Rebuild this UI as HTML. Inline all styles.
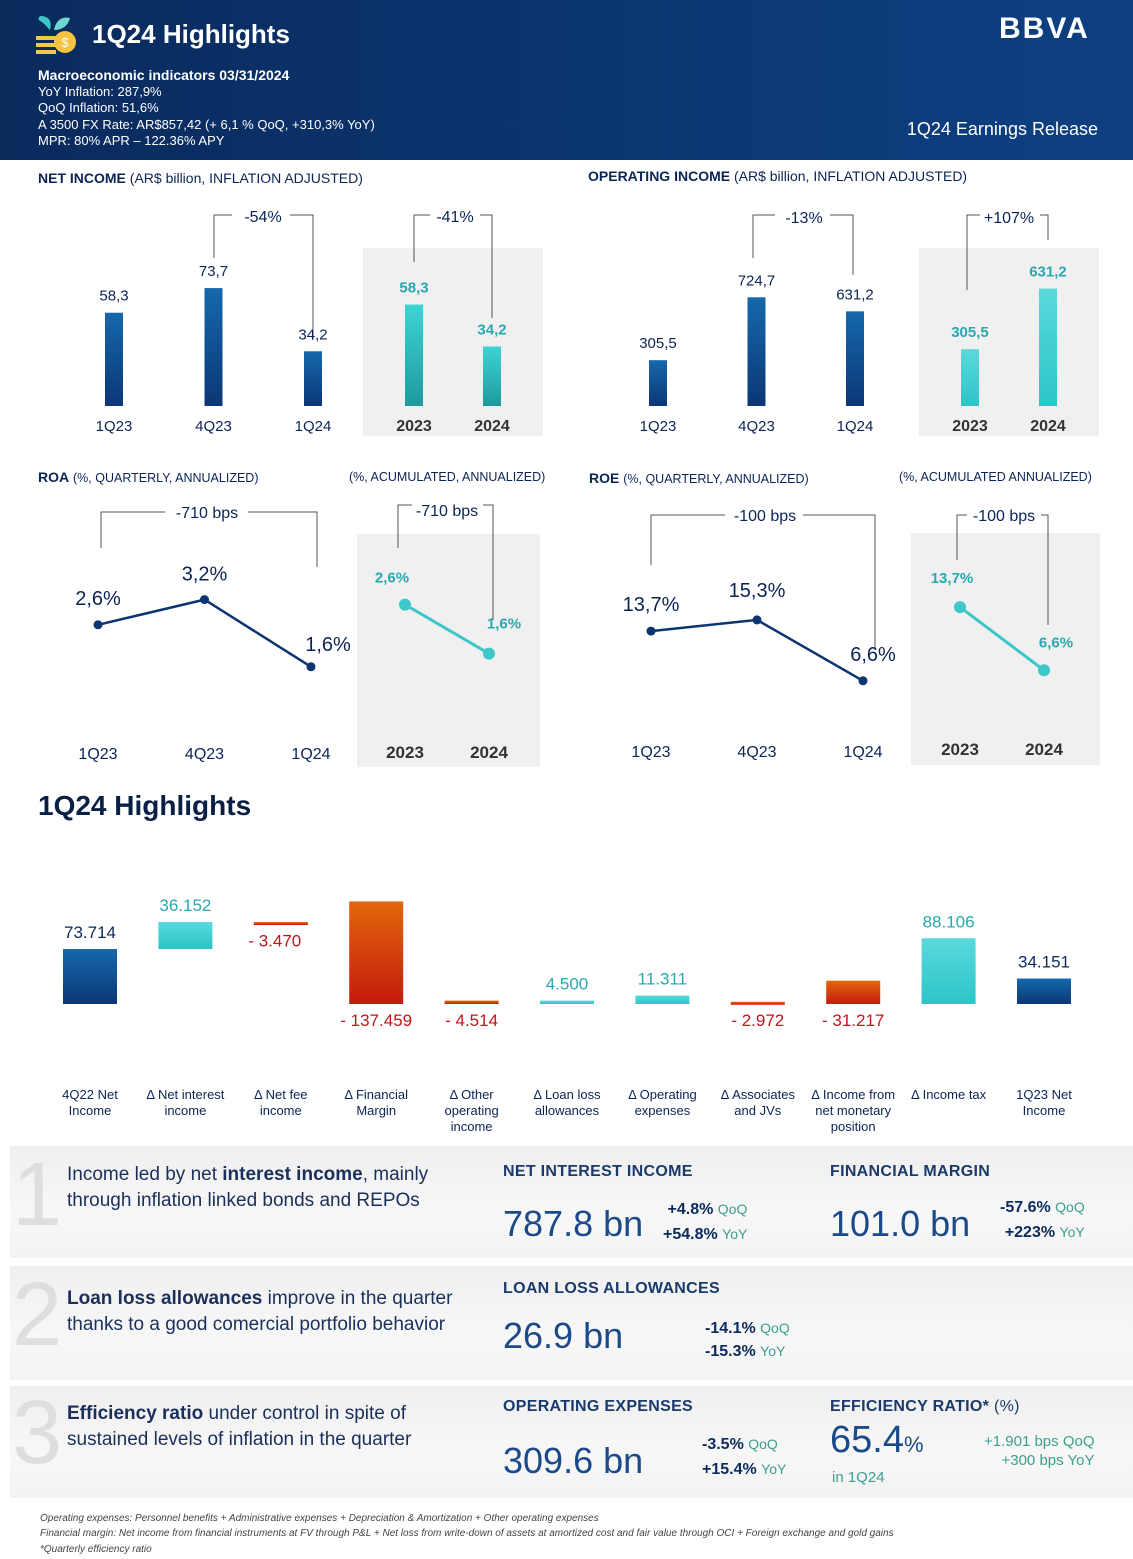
<!DOCTYPE html>
<html><head><meta charset="utf-8">
<style>
*{margin:0;padding:0;box-sizing:border-box}
body{width:1133px;height:1559px;position:relative;background:#fff;font-family:"Liberation Sans",sans-serif;overflow:hidden;color:#0b2456}
.a{position:absolute;white-space:nowrap}
#hdr{position:absolute;left:0;top:0;width:1133px;height:160px;background:linear-gradient(90deg,#0a2a5c,#0c3a78 70%,#0d3f80)}
.panel{position:absolute;left:10px;width:1123px;background:linear-gradient(180deg,#efefef,#f7f7f7 60%,#f3f3f3)}
.big{font-size:90px;color:#dedede;font-weight:normal;line-height:1}
.ptxt{font-size:19px;color:#1a2f5a;line-height:26px;white-space:normal}
.hd{font-size:16px;color:#1a3a6b;font-weight:bold;letter-spacing:.3px}
.num{font-size:36px;color:#1b4a8a;font-weight:normal}
.pct{font-size:16px;font-weight:bold;color:#0b2a5c}
.pct span{font-weight:normal;color:#3e9e8e;font-size:14px}
.foot{font-size:10px;font-style:italic;color:#444}
</style></head><body>
<div id="hdr"></div>
<svg class="a" style="left:34px;top:14px" width="48" height="42">
<path d="M14 14 C6 4 2 8 6 2 C16 2 18 8 16 16Z" fill="#3fc7c7"/><path d="M20 16 C22 6 28 2 36 4 C34 12 28 16 20 16Z" fill="#6fd6d0"/>
<rect x="2" y="22" width="20" height="4" fill="#f2c84b"/><rect x="2" y="29" width="20" height="4" fill="#f2c84b"/><rect x="2" y="36" width="20" height="4" fill="#f2c84b"/>
<circle cx="31" cy="28" r="11" fill="#f5c242"/><text x="31" y="33" font-size="13" text-anchor="middle" fill="#fff" font-family="Liberation Sans">$</text></svg>
<div class="a" style="left:92px;top:19px;font-size:26px;color:#fff;font-weight:bold">1Q24 Highlights</div>
<div class="a" style="left:38px;top:67px;font-size:14px;color:#fff;font-weight:bold">Macroeconomic indicators 03/31/2024</div>
<div class="a" style="left:38px;top:84px;font-size:13px;color:#fff;line-height:16.3px">YoY Inflation: 287,9%<br>QoQ Inflation: 51,6%<br>A 3500 FX Rate: AR$857,42 (+ 6,1 % QoQ, +310,3% YoY)<br>MPR: 80% APR – 122.36% APY</div>
<div class="a" style="left:999px;top:12px;font-size:30px;color:#fff;font-weight:bold;letter-spacing:2px">BBVA</div>
<div class="a" style="left:900px;top:119px;font-size:18px;color:#fff;width:198px;text-align:right">1Q24 Earnings Release</div>

<div class="a" style="left:38px;top:170px;font-size:14px"><b>NET INCOME</b> (AR$ billion, INFLATION ADJUSTED)</div>
<div class="a" style="left:588px;top:168px;font-size:14px"><b>OPERATING INCOME</b> (AR$ billion, INFLATION ADJUSTED)</div>
<div class="a" style="left:38px;top:469px;font-size:14px"><b>ROA</b> <span style="font-size:12.5px">(%, QUARTERLY, ANNUALIZED)</span></div>
<div class="a" style="left:349px;top:470px;font-size:12.5px">(%, ACUMULATED, ANNUALIZED)</div>
<div class="a" style="left:589px;top:470px;font-size:14px"><b>ROE</b> <span style="font-size:12.5px">(%, QUARTERLY, ANNUALIZED)</span></div>
<div class="a" style="left:899px;top:470px;font-size:12.5px">(%, ACUMULATED ANNUALIZED)</div>
<div class="a" style="left:38px;top:790px;font-size:28px;font-weight:bold;color:#0a1f44">1Q24 Highlights</div>

<svg id="charts" class="a" style="left:0;top:0" width="1133" height="1140">
<defs>
<linearGradient id="gb" x1="0" y1="0" x2="0" y2="1"><stop offset="0" stop-color="#1668ad"/><stop offset="1" stop-color="#0b3775"/></linearGradient>
<linearGradient id="gt" x1="0" y1="0" x2="0" y2="1"><stop offset="0" stop-color="#3fd3d3"/><stop offset="1" stop-color="#1e9a9e"/></linearGradient>
<linearGradient id="gt2" x1="0" y1="0" x2="0" y2="1"><stop offset="0" stop-color="#5ad9dc"/><stop offset="1" stop-color="#2cc5c8"/></linearGradient>
<linearGradient id="go" x1="0" y1="0" x2="0" y2="1"><stop offset="0" stop-color="#e2670c"/><stop offset="1" stop-color="#c41b0c"/></linearGradient>
</defs>
<rect x="363" y="248" width="180" height="188" fill="#f0f0f0"/>
<rect x="919" y="248" width="180" height="188" fill="#f0f0f0"/>
<rect x="357" y="534" width="183" height="233" fill="#f0f0f0"/>
<rect x="911" y="533" width="189" height="232" fill="#f0f0f0"/>
<g fill="none" stroke="#555" stroke-width="1">
<path d="M214 258V215H232M290 215H313V340"/><path d="M414 262V215H430M480 215H492V318"/>
<path d="M753 258V215H775M830 215H853V275"/><path d="M967 290V215H980M1040 215H1048V240"/>
<path d="M101 548V512H165M248 512H317V567"/><path d="M398 548V505H412M483 505H493V620"/>
<path d="M651 565V515H725M803 515H875V650"/><path d="M957 560V515H967M1041 515H1048V625"/>
</g>
<g font-family="Liberation Sans" font-size="16" fill="#0b2456" text-anchor="middle">
<text x="263" y="222">-54%</text><text x="455" y="222">-41%</text><text x="804" y="223">-13%</text><text x="1009" y="223">+107%</text>
<text x="207" y="518">-710 bps</text><text x="447" y="516">-710 bps</text><text x="765" y="521">-100 bps</text><text x="1004" y="521">-100 bps</text>
</g>
<g id="dyn"></g>
</svg>

<div class="panel" style="top:1146px;height:112px"></div>
<div class="panel" style="top:1266px;height:114px"></div>
<div class="panel" style="top:1386px;height:112px"></div>
<div class="a big" style="left:12px;top:1150px">1</div>
<div class="a big" style="left:12px;top:1270px">2</div>
<div class="a big" style="left:12px;top:1388px">3</div>
<div class="a ptxt" style="left:67px;top:1162px;width:420px">Income led by net <b>interest income</b>, mainly through inflation linked bonds and REPOs</div>
<div class="a ptxt" style="left:67px;top:1286px;width:420px"><b>Loan loss allowances</b> improve in the quarter thanks to a good comercial portfolio behavior</div>
<div class="a ptxt" style="left:67px;top:1401px;width:420px"><b>Efficiency ratio</b> under control in spite of sustained levels of inflation in the quarter</div>

<div class="a hd" style="left:503px;top:1163px">NET INTEREST INCOME</div>
<div class="a num" style="left:503px;top:1203px">787.8 bn</div>
<div class="a pct" style="left:663px;top:1197px;line-height:24px;text-align:right">+4.8% <span>QoQ</span><br>+54.8% <span>YoY</span></div>
<div class="a hd" style="left:830px;top:1163px">FINANCIAL MARGIN</div>
<div class="a num" style="left:830px;top:1203px">101.0 bn</div>
<div class="a pct" style="left:1000px;top:1195px;line-height:24px;text-align:right">-57.6% <span>QoQ</span><br>+223% <span>YoY</span></div>
<div class="a hd" style="left:503px;top:1280px">LOAN LOSS ALLOWANCES</div>
<div class="a num" style="left:503px;top:1315px">26.9 bn</div>
<div class="a pct" style="left:705px;top:1317px;line-height:22px">-14.1% <span>QoQ</span><br>-15.3% <span>YoY</span></div>
<div class="a hd" style="left:503px;top:1398px">OPERATING EXPENSES</div>
<div class="a num" style="left:503px;top:1440px">309.6 bn</div>
<div class="a pct" style="left:702px;top:1432px;line-height:24px">-3.5% <span>QoQ</span><br>+15.4% <span>YoY</span></div>
<div class="a hd" style="left:830px;top:1398px">EFFICIENCY RATIO* <span style="font-weight:normal">(%)</span></div>
<div class="a num" style="left:830px;top:1419px;font-size:38px">65.4<span style="font-size:22px">%</span></div>
<div class="a" style="left:832px;top:1469px;font-size:15px;color:#3e9e8e">in 1Q24</div>
<div class="a" style="left:984px;top:1432px;font-size:15px;color:#3e9e8e;line-height:19px;text-align:right">+1.901 bps QoQ<br>+300 bps YoY</div>

<div class="a foot" style="left:40px;top:1513px">Operating expenses: Personnel benefits + Administrative expenses + Depreciation &amp; Amortization + Other operating expenses</div>
<div class="a foot" style="left:40px;top:1528px">Financial margin: Net income from financial instruments at FV through P&amp;L + Net loss from write-down of assets at amortized cost and fair value through OCI + Foreign exchange and gold gains</div>
<div class="a foot" style="left:40px;top:1544px">*Quarterly efficiency ratio</div>

<script>
const niCats=["1Q23","4Q23","1Q24"], niVals=[58.3,73.7,34.2];
const niAccCats=["2023","2024"], niAccVals=[58.3,34.2];
const oiCats=["1Q23","4Q23","1Q24"], oiVals=[305.5,724.7,631.2];
const oiAccCats=["2023","2024"], oiAccVals=[305.5,631.2];
const roaCats=["1Q23","4Q23","1Q24"], roaVals=[2.6,3.2,1.6];
const roaAccCats=["2023","2024"], roaAccVals=[2.6,1.6];
const roeCats=["1Q23","4Q23","1Q24"], roeVals=[13.7,15.3,6.6];
const roeAccCats=["2023","2024"], roeAccVals=[13.7,6.6];
const wfCats=[["4Q22 Net","Income"],["Δ Net interest","income"],["Δ Net fee","income"],["Δ Financial","Margin"],["Δ Other","operating","income"],["Δ Loan loss","allowances"],["Δ Operating","expenses"],["Δ Associates","and JVs"],["Δ Income from","net monetary","position"],["Δ Income tax"],["1Q23 Net","Income"]];
const wfLow=[0,73.714,106.396,0,0,0,0,0,0,0,0];
const wfHigh=[73.714,109.866,109.866,137.459,4.514,4.5,11.311,2.972,31.217,88.106,34.151];
const wfLabels=["73.714","36.152","- 3.470","- 137.459","- 4.514","4.500","11.311","- 2.972","- 31.217","88.106","34.151"];
const wfKind=["total","pos","neg","neg","neg","pos","pos","neg","neg","pos","total"];

const NS="http://www.w3.org/2000/svg", g=document.getElementById("dyn");
function el(t,a,txt){const e=document.createElementNS(NS,t);for(const k in a)e.setAttribute(k,a[k]);if(txt!==undefined)e.textContent=txt;g.appendChild(e);return e;}
function fmt(v){return v.toFixed(1).replace(".",",");}

function bars(cats,vals,x0,dx,base,scale,fill,bold,lblColor,name){
  cats.forEach((c,i)=>{
    const x=x0+i*dx, h=vals[i]*scale;
    const r=el("rect",{x:x-9,y:base-h,width:18,height:h,fill:fill});
    
    
    const t=el("text",{x:x,y:base-h-12,"text-anchor":"middle","font-size":15,fill:lblColor,"font-weight":bold?"bold":"normal","font-family":"Liberation Sans"},fmt(vals[i]));
    
    
    const l=el("text",{x:x,y:base+25,"text-anchor":"middle","font-size":bold?16:15,fill:bold?"#333":"#0b2456","font-weight":bold?"bold":"normal","font-family":"Liberation Sans"},c);
    
    
  });
}
bars(niCats,niVals,114,99.5,406,1.6,"url(#gb)",false,"#0b2456","ni");
bars(niAccCats,niAccVals,414,78,406,1.74,"url(#gt)",true,"#2aa8b0","ni-acc");
bars(oiCats,oiVals,658,98.5,406,0.15,"url(#gb)",false,"#0b2456","oi");
bars(oiAccCats,oiAccVals,970,78,406,0.186,"url(#gt2)",true,"#2aa8b0","oi-acc");

function line(cats,vals,x0,dx,yf,color,bold,lblColor,name,catY,lblDx){
  const pts=vals.map((v,i)=>[x0+i*dx,yf(v)]);
  const p=el("polyline",{points:pts.map(p=>p.join(",")).join(" "),fill:"none",stroke:color,"stroke-width":bold?3:2.5});
  
  
  pts.forEach((q,i)=>{
    const c=el("circle",{cx:q[0],cy:q[1],r:bold?6:4.5,fill:color});
    
    
    const d=lblDx[i];
    const t=el("text",{x:q[0]+d[0],y:q[1]+d[1],"text-anchor":"middle","font-size":bold?15:20,fill:lblColor,"font-weight":bold?"bold":"normal","font-family":"Liberation Sans"},vals[i].toFixed(1).replace(".",",")+"%");
    
    
    const l=el("text",{x:q[0],y:catY,"text-anchor":"middle","font-size":bold?17:16,fill:bold?"#333":"#0b2456","font-weight":bold?"bold":"normal","font-family":"Liberation Sans"},cats[i]);
    
    
  });
}
line(roaCats,roaVals,98,106.5,v=>734-42*v,"#0b3470",false,"#0b2456","roa",759,[[0,-20],[0,-19],[17,-16]]);
line(roaAccCats,roaAccVals,405,84,v=>732-49*v,"#3cc8c8",true,"#2aa8b0","roa-acc",758,[[-13,-22],[15,-25]]);
line(roeCats,roeVals,651,106,v=>727-7*v,"#0b3470",false,"#0b2456","roe",757,[[0,-20],[0,-23],[10,-20]]);
line(roeAccCats,roeAccVals,960,84,v=>729-8.9*v,"#3cc8c8",true,"#2aa8b0","roe-acc",755,[[-8,-24],[12,-23]]);

const wfBase=1004, wfScale=0.746, wfX0=90, wfDx=95.4;
wfCats.forEach((c,i)=>{
  const x=wfX0+i*wfDx, yTop=wfBase-wfHigh[i]*wfScale, yBot=wfBase-wfLow[i]*wfScale;
  const k=wfKind[i], fill=k=="total"?"url(#gb)":k=="pos"?"url(#gt2)":"url(#go)";
  const r=el("rect",{x:x-27,y:yTop,width:54,height:Math.max(yBot-yTop,3),fill:fill});
  
  
  const col=k=="total"?"#0b2a5c":k=="pos"?"#2aa8b0":"#c0151a";
  const ly=k=="neg"?Math.max(yBot,1004)+22:yTop-11;
  const t=el("text",{x:x+(k=="neg"&&i==2?-6:0),y:ly,"text-anchor":"middle","font-size":17,fill:col,"font-family":"Liberation Sans"},wfLabels[i]);
  if(i==2)t.setAttribute("y",yBot+22);
  
  
  c.forEach((line,j)=>{
    const l=el("text",{x:x,y:1099+j*16,"text-anchor":"middle","font-size":13,fill:"#0b2456","font-family":"Liberation Sans"},line);
    
    
  });
});
</script>
</body></html>
